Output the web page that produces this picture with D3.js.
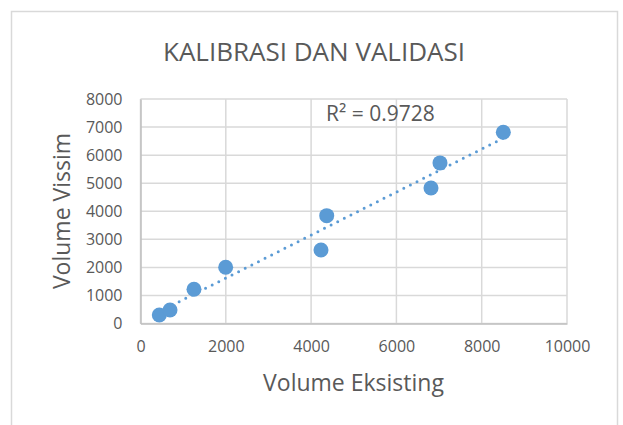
<!DOCTYPE html>
<html>
<head>
<meta charset="utf-8">
<script src="https://cdn.jsdelivr.net/npm/d3@7"></script>
<style>
  html, body { margin: 0; padding: 0; background: #fff; }
  svg text { font-family: "Open Sans", "Lato", sans-serif; fill: #595959; }
</style>
</head>
<body>
<svg id="chart" width="623" height="425"></svg>
<script>
// Data
const volEksisting = [441, 692, 1254, 1997, 4232, 4366, 6811, 7022, 8507];
const volVissim = [303, 481, 1219, 2003, 2620, 3843, 4830, 5722, 6816];
const xTicks = [0, 2000, 4000, 6000, 8000, 10000];
const yTicks = [0, 1000, 2000, 3000, 4000, 5000, 6000, 7000, 8000];
const titleText = "KALIBRASI DAN VALIDASI";
const xLabel = "Volume Eksisting";
const yLabel = "Volume Vissim";
const r2Label = "R² = 0.9728";

const W = 623, H = 425;
const m = {top: 99, right: 56, bottom: 101.5, left: 140.5};
const svg = d3.select("#chart");

const x = d3.scaleLinear().domain([0, 10000]).range([m.left, W - m.right]);
const y = d3.scaleLinear().domain([0, 8000]).range([H - m.bottom, m.top]);

// chart border
svg.append("rect")
    .attr("x", 11.5).attr("y", 11.5)
    .attr("width", 606).attr("height", 420)
    .attr("fill", "#fff")
    .attr("stroke", "#d9d9d9")
    .attr("stroke-width", 1.5);

// gridlines
svg.append("g").selectAll("line")
    .data(yTicks)
    .join("line")
    .attr("x1", x(0)).attr("x2", x(10000))
    .attr("y1", d => y(d)).attr("y2", d => y(d))
    .attr("stroke", "#d9d9d9").attr("stroke-width", 1.5);

svg.append("g").selectAll("line")
    .data(xTicks)
    .join("line")
    .attr("x1", d => x(d)).attr("x2", d => x(d))
    .attr("y1", y(0)).attr("y2", y(8000))
    .attr("stroke", "#d9d9d9").attr("stroke-width", 1.5);

// axes
const fmt = d3.format("d");
const xAxis = d3.axisBottom(x).tickValues(xTicks).tickFormat(fmt).tickSize(0).tickPadding(17);
const yAxis = d3.axisLeft(y).tickValues(yTicks).tickFormat(fmt).tickSize(0).tickPadding(18);

const gx = svg.append("g").attr("transform", `translate(0,${y(0)})`).call(xAxis);
const gy = svg.append("g").attr("transform", `translate(${x(0)},0)`).call(yAxis);
for (const g of [gx, gy]) {
    g.select(".domain").attr("stroke", "#bfbfbf").attr("stroke-width", 1.5);
    g.selectAll("text").attr("font-size", "16px").attr("fill", "#595959")
        .attr("font-family", "'Open Sans', sans-serif");
}

// trendline (least squares)
const mx = d3.mean(volEksisting), my = d3.mean(volVissim);
const slope = d3.sum(volEksisting, (v, i) => (v - mx) * (volVissim[i] - my)) /
    d3.sum(volEksisting, v => (v - mx) ** 2);
const icpt = my - slope * mx;
const [xmin, xmax] = d3.extent(volEksisting);

svg.append("line")
    .attr("x1", x(xmin)).attr("y1", y(icpt + slope * xmin))
    .attr("x2", x(xmax)).attr("y2", y(icpt + slope * xmax))
    .attr("stroke", "#5b9bd5")
    .attr("stroke-width", 3)
    .attr("stroke-linecap", "round")
    .attr("stroke-dasharray", "0 7.4");

// points
svg.append("g").selectAll("circle")
    .data(volEksisting)
    .join("circle")
    .attr("cx", d => x(d))
    .attr("cy", (d, i) => y(volVissim[i]))
    .attr("r", 7.5)
    .attr("fill", "#5b9bd5");

// R² label
svg.append("text")
    .attr("x", 326).attr("y", 121)
    .attr("font-size", "21px")
    .text(r2Label);

// title
svg.append("text")
    .attr("x", 314).attr("y", 60.5)
    .attr("text-anchor", "middle")
    .attr("font-size", "26px")
    .text(titleText);

// axis titles
svg.append("text")
    .attr("x", 353.5).attr("y", 391)
    .attr("text-anchor", "middle")
    .attr("font-size", "23px")
    .text(xLabel);

svg.append("text")
    .attr("transform", "translate(70,211) rotate(-90)")
    .attr("text-anchor", "middle")
    .attr("font-size", "23px")
    .text(yLabel);
</script>
</body>
</html>
